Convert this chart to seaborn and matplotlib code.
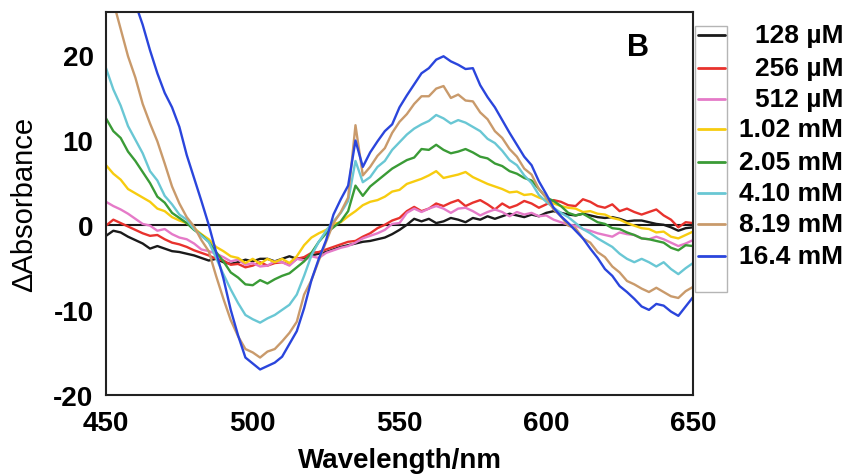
import numpy as np
import pandas as pd
import matplotlib
matplotlib.use("Agg")
import matplotlib.pyplot as plt
import seaborn as sns
from matplotlib.patches import Rectangle
from matplotlib.lines import Line2D

# Difference spectra, sampled every 2.5 nm from 450 to 650 nm
wavelength = np.arange(450.0, 650.0 + 1e-9, 2.5)

labels = ["128 \u00b5M", "256 \u00b5M", "512 \u00b5M", "1.02 mM",
          "2.05 mM", "4.10 mM", "8.19 mM", "16.4 mM"]
colors = ["#1a1a1a", "#e8322d", "#e57ac8", "#f7cc0f",
          "#3a9b36", "#69c7d4", "#c99a6b", "#2a45dc"]

c128uM = [
    -1.3, -0.7, -0.9, -1.4, -1.8, -2.2, -2.8, -2.5, -2.8, -3.1,
    -3.2, -3.4, -3.6, -3.9, -4.2, -4.0, -4.4, -4.6, -4.4, -4.1,
    -4.3, -4.0, -4.0, -4.3, -4.0, -3.7, -4.0, -3.9, -3.6, -3.4,
    -3.2, -2.9, -2.6, -2.4, -2.2, -2.0, -1.9, -1.7, -1.5, -1.1,
    -0.6, 0.0, 0.7, 0.4, 0.7, 0.2, 0.4, 0.8, 0.6, 0.3,
    0.8, 0.6, 1.0, 0.7, 1.0, 1.3, 1.1, 0.9, 1.2, 1.0,
    1.4, 1.6, 1.4, 1.2, 1.1, 1.3, 1.1, 0.9, 0.8, 0.9,
    0.7, 0.4, 0.5, 0.5, 0.3, 0.1, 0.0, -0.3, -0.7, -0.4,
    -0.3]
c256uM = [
    -0.1, 0.6, 0.2, -0.2, -0.6, -1.0, -1.3, -1.2, -1.7, -2.1,
    -2.3, -2.6, -3.0, -3.3, -3.6, -4.0, -4.2, -4.7, -4.6, -5.0,
    -4.8, -4.4, -4.8, -4.5, -4.4, -4.7, -4.0, -3.8, -3.3, -3.2,
    -2.9, -2.6, -2.3, -2.0, -1.9, -1.4, -1.0, -0.4, 0.0, 0.5,
    0.8, 1.6, 2.1, 1.6, 1.9, 2.5, 2.2, 2.6, 2.9, 2.2,
    2.6, 2.9, 2.4, 1.8, 2.5, 2.0, 2.3, 2.8, 2.5, 2.0,
    2.4, 2.9, 2.7, 2.3, 2.2, 3.0, 2.7, 2.2, 2.0, 2.4,
    1.6, 1.9, 1.5, 1.2, 1.5, 1.8, 1.1, 0.6, -0.3, 0.3,
    0.2]
c512uM = [
    2.7, 2.2, 1.8, 1.3, 0.7, 0.1, -0.1, -0.7, -0.5, -1.1,
    -1.5, -1.7, -2.2, -2.9, -3.1, -3.4, -3.8, -4.3, -4.1, -4.7,
    -4.5, -4.9, -4.8, -4.3, -4.4, -4.8, -4.0, -4.2, -3.7, -3.9,
    -3.3, -3.0, -2.7, -2.5, -2.1, -1.6, -1.3, -1.0, -0.6, 0.1,
    0.2, 1.4, 1.9, 1.5, 1.9, 2.2, 1.9, 1.4, 1.9, 2.0,
    1.6, 1.1, 1.5, 1.8, 1.5, 1.0, 1.5, 1.2, 1.4, 1.0,
    1.1, 0.6, 0.3, 0.0, -0.1, -0.5, -0.7, -1.0, -1.2, -1.4,
    -0.9, -1.1, -1.2, -1.6, -1.7, -1.4, -1.7, -2.1, -2.5, -2.2,
    -1.8]
c1_02mM = [
    7.0, 6.0, 5.3, 4.2, 3.7, 3.2, 2.7, 1.9, 1.6, 0.9,
    0.5, 0.2, -0.4, -1.1, -1.7, -2.6, -3.1, -3.7, -3.9, -4.5,
    -4.0, -4.6, -4.0, -4.4, -4.0, -4.5, -3.7, -2.4, -1.5, -1.0,
    -0.6, 0.1, 0.3, 1.0, 1.6, 2.3, 2.7, 2.9, 3.3, 3.9,
    4.1, 4.8, 5.1, 5.4, 5.8, 6.3, 5.5, 5.7, 5.9, 6.2,
    5.6, 5.2, 4.8, 4.5, 4.2, 3.8, 3.9, 3.5, 3.6, 3.2,
    2.9, 2.5, 2.2, 2.0, 1.9, 1.5, 1.6, 1.3, 1.2, 0.8,
    0.6, 0.2, -0.1, -0.4, -0.5, -0.9, -0.8, -1.4, -1.6, -1.2,
    -0.8]
c2_05mM = [
    12.5, 11.0, 10.2, 8.6, 7.5, 6.2, 4.9, 3.3, 2.6, 1.4,
    0.8, 0.2, -0.6, -1.2, -2.0, -3.2, -4.3, -5.6, -6.2, -7.0,
    -7.1, -6.5, -6.9, -6.4, -6.0, -5.7, -5.0, -4.3, -3.3, -2.0,
    -1.0, -0.3, 0.4, 1.6, 4.6, 3.4, 4.5, 5.2, 5.9, 6.6,
    7.1, 7.6, 7.9, 8.9, 8.8, 9.4, 8.8, 8.4, 8.6, 8.9,
    8.5, 8.0, 7.8, 7.2, 6.9, 6.3, 6.0, 5.5, 5.2, 4.2,
    3.2, 2.8, 2.2, 1.4, 1.1, 1.3, 0.8, 0.3, 0.1, -0.4,
    -0.5, -0.9, -1.2, -1.6, -1.7, -1.9, -2.1, -2.7, -3.0, -2.4,
    -2.5]
c4_10mM = [
    18.4, 15.9, 14.0, 11.6, 10.0, 8.4, 6.3, 5.2, 3.4, 2.4,
    1.2, 0.6, -0.5, -1.3, -2.0, -3.9, -5.8, -7.6, -9.2, -10.6,
    -11.1, -11.5, -11.0, -10.6, -10.0, -9.4, -8.2, -6.0, -3.6, -2.0,
    -0.7, 0.4, 1.4, 2.8, 7.5, 5.0, 5.6, 6.8, 7.5, 8.8,
    9.7, 10.6, 11.3, 11.8, 12.2, 12.9, 12.5, 11.9, 12.3, 12.0,
    11.5, 11.0, 10.1, 9.6, 8.7, 7.6, 7.0, 5.8, 4.9, 3.5,
    2.7, 2.0, 1.4, 0.9, 0.2, -0.5, -1.0, -1.6, -2.1, -2.6,
    -3.4, -4.0, -4.4, -4.0, -4.4, -4.9, -4.4, -5.2, -5.8, -5.1,
    -4.5]
c8_19mM = [
    30.0, 26.2, 23.0, 19.8, 17.3, 14.2, 11.9, 9.8, 7.2, 4.5,
    2.5, 0.9, -0.2, -1.8, -3.1, -6.0, -8.7, -11.2, -13.1, -14.6,
    -15.0, -15.6, -14.9, -14.6, -13.7, -12.7, -11.4, -8.2, -6.5, -4.2,
    -2.0, 0.2, 1.5, 3.2, 11.7, 5.8, 6.8, 8.1, 9.0, 10.8,
    12.1, 13.0, 14.2, 15.1, 15.1, 16.0, 16.3, 14.9, 15.3, 14.6,
    14.5, 13.2, 12.4, 11.0, 10.2, 8.9, 8.0, 6.6, 5.9, 4.2,
    3.2, 1.8, 1.0, -0.1, -0.4, -1.6, -2.1, -3.2, -3.8, -4.9,
    -5.6, -6.6, -7.0, -7.5, -7.9, -7.4, -7.9, -8.4, -8.6, -7.8,
    -7.3]
c16_4mM = [
    37.0, 34.5, 31.5, 28.5, 26.0, 23.5, 20.5, 17.8, 15.5, 13.8,
    11.5, 8.2, 5.5, 2.8, 0.0, -3.2, -6.3, -10.0, -13.0, -15.6,
    -16.3, -17.0, -16.6, -16.2, -15.5, -14.0, -12.5, -9.8, -6.5, -4.0,
    -1.8, 1.2, 3.0, 4.6, 9.9, 6.8, 8.5, 9.8, 11.0, 11.8,
    13.8, 15.2, 16.5, 17.8, 18.4, 19.4, 19.8, 19.2, 18.8, 18.3,
    18.4, 16.4, 15.0, 13.8, 12.3, 10.8, 9.4, 8.0, 7.0, 5.1,
    3.6, 2.0, 1.0, 0.2, -0.7, -1.6, -2.8, -3.9, -5.2, -6.0,
    -7.2, -7.9, -8.7, -9.6, -10.0, -9.3, -9.5, -10.2, -10.7, -9.6,
    -8.5]

spectra = [c128uM, c256uM, c512uM, c1_02mM, c2_05mM, c4_10mM, c8_19mM, c16_4mM]

df = pd.concat(
    [pd.DataFrame({"Wavelength": wavelength, "dA": vals, "Conc": lab})
     for lab, vals in zip(labels, spectra)],
    ignore_index=True)

sns.set_style("white")
plt.rcParams["font.family"] = ["Liberation Sans", "DejaVu Sans"]
plt.rcParams["axes.unicode_minus"] = False
plt.rcParams["text.color"] = "black"
plt.rcParams["axes.labelcolor"] = "black"
plt.rcParams["xtick.color"] = "black"
plt.rcParams["ytick.color"] = "black"

W, H = 847, 477
fig = plt.figure(figsize=(W / 100, H / 100), dpi=100)
ax = fig.add_axes([106 / W, 1 - 396 / H, (693 - 106) / W, (396 - 13) / H])

ax.axhline(0, color="#1a1a1a", lw=1.5, zorder=1.5)
sns.lineplot(data=df, x="Wavelength", y="dA", hue="Conc", hue_order=labels,
             palette=colors, lw=1.7, legend=False, estimator=None,
             sort=False, ax=ax, zorder=2)

ax.set_xlim(450, 650)
ax.set_ylim(-20, 25)
ax.set_xticks([450, 500, 550, 600, 650])
ax.set_yticks([-20, -10, 0, 10, 20])
for sp in ax.spines.values():
    sp.set_visible(True)
    sp.set_linewidth(1.5)
    sp.set_color("#222222")
ax.tick_params(axis="both", direction="out", length=6, width=1.3,
               color="#222222", labelcolor="black", labelsize=20, pad=3)
for t in ax.get_xticklabels() + ax.get_yticklabels():
    t.set_fontweight("bold")
ax.tick_params(axis="x", pad=5)

ax.set_xlabel("Wavelength/nm", fontsize=20, fontweight="bold", color="black")
ax.set_ylabel("\u0394Absorbance", fontsize=21, color="black")
ax.xaxis.set_label_coords(0.5, -0.135)
ax.yaxis.set_label_coords(-0.115, 0.5)

ax.text(638 / W, 1 - 48 / H, "B", transform=fig.transFigure, fontsize=22,
        fontweight="bold", ha="center", va="center", color="black")

# Legend: framed handle column with right-aligned labels beside it
fig.patches.append(Rectangle((695 / W, 1 - 293 / H), 32 / W, 266 / H,
                             transform=fig.transFigure, fill=False,
                             edgecolor="#b5b5b5", lw=1.0))
rows = [36, 69, 100, 130, 163, 194, 225, 257]
for yy, lab, col in zip(rows, labels, colors):
    fig.lines.append(Line2D([698 / W, 725 / W], [1 - yy / H, 1 - yy / H],
                            transform=fig.transFigure, color=col, lw=2.0))
    fig.text(843 / W, 1 - yy / H, lab, ha="right", va="center",
             fontsize=19, fontweight="bold", color="black")

fig.savefig("out.png", dpi=100)
